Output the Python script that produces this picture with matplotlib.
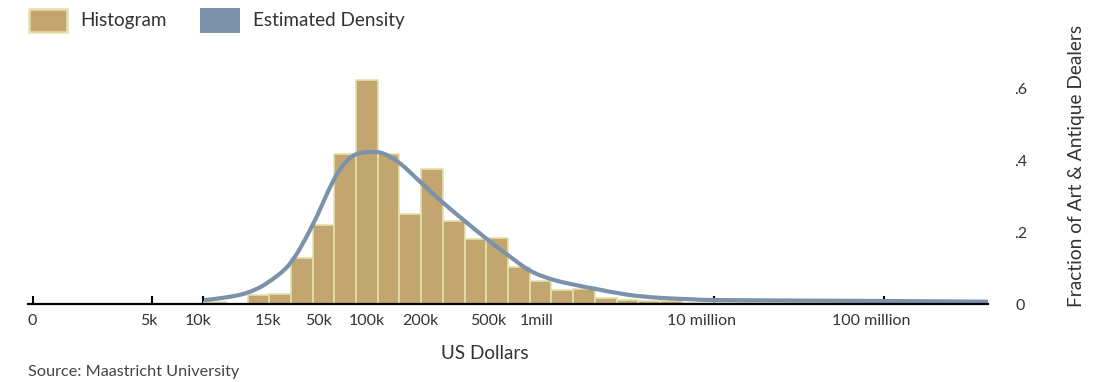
import numpy as np
import matplotlib
matplotlib.use("Agg")
import matplotlib.pyplot as plt
import matplotlib.transforms as mtransforms
from matplotlib.patches import Rectangle, PathPatch
from matplotlib.path import Path

plt.rcParams['font.family'] = ['Lato', 'DejaVu Sans']

# ---- data ----
# histogram: bins in log10(US dollars)
bin_start_log10 = 4.004
bin_width_log10 = 0.1276
hist_fraction = [0.006, 0.0, 0.026, 0.029, 0.129, 0.219, 0.417, 0.623, 0.418,
                 0.249, 0.376, 0.230, 0.181, 0.183, 0.104, 0.064, 0.038, 0.041,
                 0.018, 0.0125, 0.008, 0.008, 0.004, 0.003, 0.003, 0.003, 0.002,
                 0.002, 0.002, 0.002, 0.002, 0.002]

# estimated density curve (log10 dollars, fraction)
dens_log10 = [4.004, 4.128, 4.255, 4.373, 4.51, 4.637, 4.765, 4.844, 4.91, 4.98,
              5.057, 5.157, 5.275, 5.402, 5.53, 5.667, 5.795, 5.922, 6.059, 6.216,
              6.294, 6.49, 6.686, 6.88, 7.004, 7.51, 8.0, 8.613]
dens_value = [0.011, 0.018, 0.031, 0.058, 0.113, 0.215, 0.344, 0.398, 0.418, 0.422,
              0.418, 0.390, 0.339, 0.284, 0.233, 0.180, 0.134, 0.092, 0.067, 0.050,
              0.043, 0.026, 0.017, 0.013, 0.011, 0.0095, 0.0083, 0.0064]

tick_dollars = [1e3, 5e3, 1e4, 2.6e4, 5e4, 1e5, 2e5, 5e5, 1e6, 1e7, 1e8]
tick_labels = ['0', '5k', '10k', '15k', '50k', '100k', '200k', '500k', '1mill',
               '10 million', '100 million']
y_ticks = [0, 0.2, 0.4, 0.6]
y_tick_labels = ['0', '.2', '.4', '.6']
legend_labels = ['Histogram', 'Estimated Density']

# style: horizontal nudge (px) of each x tick label, as in the reference
tick_label_nudge = [-1, -3, -5, -6, -3.5, -6.5, -4.6, -4, -7, -12.5, -13]

bar_color = '#C3A56F'
bar_edge = '#E4DFAE'
line_color = '#7B92AA'
text_color = '#333333'

W, H = 1106, 382
fig = plt.figure(figsize=(W / 100, H / 100), dpi=100)
ax_left, ax_right, ax_bottom, ax_top = 27.7, 988.3, 304, 28
ax = fig.add_axes([ax_left / W, (H - ax_bottom) / H,
                   (ax_right - ax_left) / W, (ax_bottom - ax_top) / H])

edges = 10 ** (bin_start_log10 + bin_width_log10 * np.arange(len(hist_fraction) + 1))
ax.bar(edges[:-1], hist_fraction, width=np.diff(edges), align='edge',
       color=bar_color, edgecolor=bar_edge, linewidth=1.2, zorder=2)

# smooth curve through the read points (Catmull-Rom -> cubic Bezier in log space)
px = np.array(dens_log10)
py = np.array(dens_value)
verts = [(px[0], py[0])]
codes = [Path.MOVETO]
n = len(px)
for i in range(n - 1):
    p0 = np.array([px[max(i - 1, 0)], py[max(i - 1, 0)]])
    p1 = np.array([px[i], py[i]])
    p2 = np.array([px[i + 1], py[i + 1]])
    p3 = np.array([px[min(i + 2, n - 1)], py[min(i + 2, n - 1)]])
    c1 = p1 + (p2 - p0) / 6.0
    c2 = p2 - (p3 - p1) / 6.0
    verts += [tuple(c1), tuple(c2), tuple(p2)]
    codes += [Path.CURVE4] * 3
verts = np.array(verts)
verts[:, 0] = 10 ** verts[:, 0]
ax.add_patch(PathPatch(Path(verts, codes), fill=False, edgecolor=line_color,
                       lw=3.0, capstyle='butt', joinstyle='round', zorder=3))

ax.set_xscale('log')
ax.set_xlim(10 ** 2.967, 10 ** 8.6135)
ax.set_ylim(0, (ax_bottom - ax_top) / 360)

ax.set_xticks(tick_dollars)
ax.set_xticklabels(tick_labels)
ax.xaxis.set_minor_locator(matplotlib.ticker.NullLocator())
ax.tick_params(axis='x', direction='in', length=5.5, width=1.5, color='black',
               labelsize=11.5, labelcolor=text_color, pad=7.5)
for lab, dx in zip(ax.get_xticklabels(), tick_label_nudge):
    lab.set_transform(lab.get_transform() +
                      mtransforms.ScaledTranslation(dx / 100, 0, fig.dpi_scale_trans))

ax.yaxis.tick_right()
ax.set_yticks(y_ticks)
ax.set_yticklabels(y_tick_labels)
ax.tick_params(axis='y', length=0, labelsize=11.5, labelcolor=text_color, pad=23)
for lab in ax.get_yticklabels():
    lab.set_horizontalalignment('center')
ax.yaxis.set_label_position('right')
ax.set_ylabel('Fraction of Art & Antique Dealers', fontsize=13.8, color=text_color,
              labelpad=30)

for s in ['top', 'left', 'right']:
    ax.spines[s].set_visible(False)
ax.spines['bottom'].set_linewidth(1.6)
ax.spines['bottom'].set_color('black')
ax.spines['bottom'].set_zorder(4)

ax.set_xlabel('US Dollars', fontsize=13.6, color=text_color)
ax.xaxis.label.set_position(((485 - ax_left) / (ax_right - ax_left), 0))
ax.xaxis.labelpad = 12

fig.text(28 / W, 1 - 372 / H, 'Source: Maastricht University', fontsize=11.7,
         color='#444444', va='center', ha='left')

# legend (figure pixel coordinates, origin top-left)
def fig_rect(x0, y0, x1, y1, fc, ec, lw):
    fig.patches.append(Rectangle((x0 / W, 1 - y1 / H), (x1 - x0) / W, (y1 - y0) / H,
                                 transform=fig.transFigure, facecolor=fc,
                                 edgecolor=ec, linewidth=lw))

fig_rect(29, 9, 67, 32, bar_color, bar_edge, 1.8)
fig_rect(200, 8, 240, 33, line_color, line_color, 0)
fig.text(80 / W, 1 - 20.5 / H, legend_labels[0], fontsize=13.6, color=text_color,
         va='center', ha='left')
fig.text(253 / W, 1 - 20.5 / H, legend_labels[1], fontsize=13.6, color=text_color,
         va='center', ha='left')

fig.savefig('out.png', dpi=100)
